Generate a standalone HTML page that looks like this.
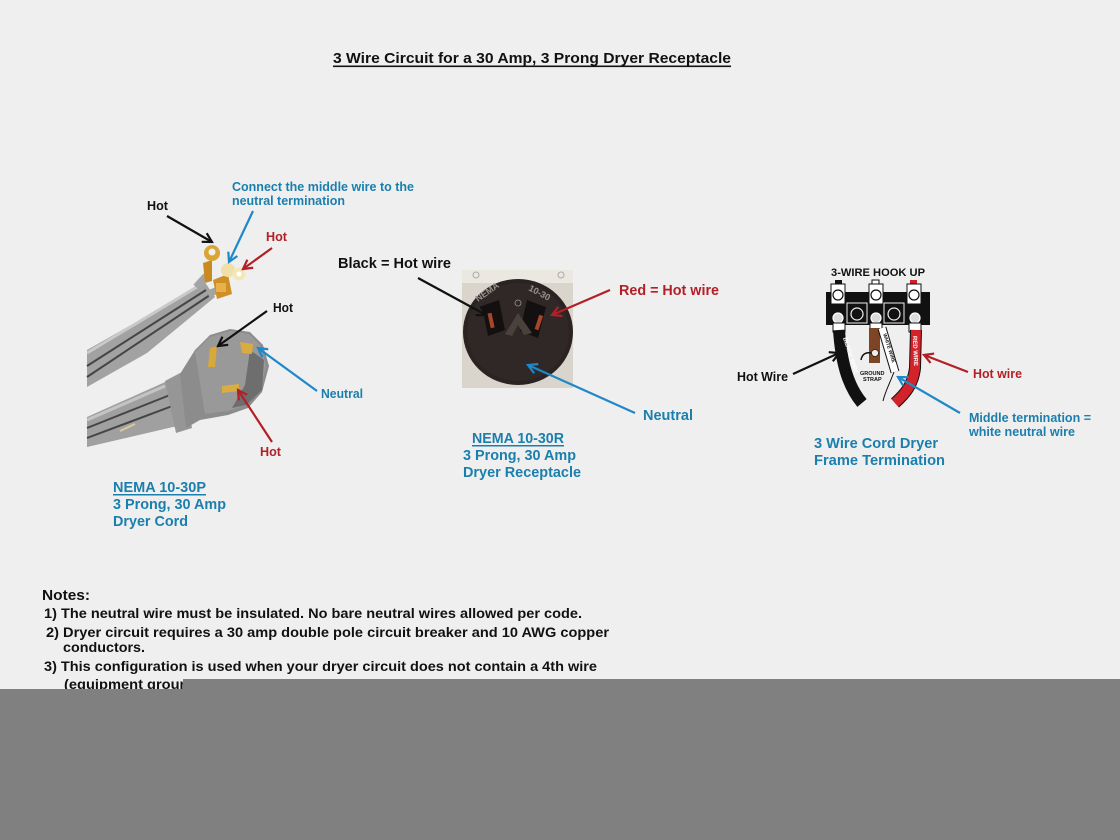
<!DOCTYPE html>
<html><head><meta charset="utf-8"><style>
html,body{margin:0;padding:0;background:#efefef;}
svg{display:block;}
text{font-family:"Liberation Sans",Arial,sans-serif;font-weight:bold;}
</style></head><body>
<svg width="1120" height="840" viewBox="0 0 1120 840" xmlns="http://www.w3.org/2000/svg">
<defs>
<marker id="mk" viewBox="0 0 12 12" refX="10" refY="6" markerWidth="12" markerHeight="12" orient="auto" markerUnits="userSpaceOnUse"><path d="M1,1 L10,6 L1,11" fill="none" stroke="#111" stroke-width="2.2"/></marker>
<marker id="mr" viewBox="0 0 12 12" refX="10" refY="6" markerWidth="12" markerHeight="12" orient="auto" markerUnits="userSpaceOnUse"><path d="M1,1 L10,6 L1,11" fill="none" stroke="#b41f26" stroke-width="2.2"/></marker>
<marker id="mb" viewBox="0 0 12 12" refX="10" refY="6" markerWidth="12" markerHeight="12" orient="auto" markerUnits="userSpaceOnUse"><path d="M1,1 L10,6 L1,11" fill="none" stroke="#1e88c8" stroke-width="2.2"/></marker>
</defs>
<rect width="1120" height="840" fill="#efefef"/>

<!-- Title -->
<text x="333" y="63" font-size="15" fill="#111" textLength="398" lengthAdjust="spacingAndGlyphs">3 Wire Circuit for a 30 Amp, 3 Prong Dryer Receptacle</text>
<rect x="333" y="65.5" width="398" height="1.6" fill="#111"/>

<!-- ===== Cord photo ===== -->
<!-- upper cable -->
<polygon points="87,350 147,316 204,281 215,297 147,353 87,387" fill="#a2a2a2"/>
<path d="M87,353 L202,284" stroke="#c9c9c9" stroke-width="3"/>
<path d="M87,366 L206,290" stroke="#454545" stroke-width="2"/>
<path d="M87,377 L210,295" stroke="#454545" stroke-width="2"/>
<!-- wire ends leading to lugs -->
<path d="M196,287 L206,276" stroke="#a4a4a4" stroke-width="7"/>
<path d="M208,294 L218,290" stroke="#a4a4a4" stroke-width="7"/>
<!-- ring lug left -->
<polygon points="203,263 212,260 212,281 205,283" fill="#c98a22"/>
<circle cx="212" cy="253" r="8" fill="#d9a534"/>
<circle cx="212" cy="252" r="3.5" fill="#f2f0ea"/>
<!-- double lug -->
<polygon points="213,280 228,274 232,294 217,299" fill="#cf8f26"/>
<rect x="216" y="283" width="10" height="9" fill="#e6b24a"/>
<circle cx="228" cy="270" r="7" fill="#f0e0a8"/>
<circle cx="239" cy="274" r="6.5" fill="#f3e6b8"/>
<circle cx="239" cy="274" r="2.5" fill="#fff"/>

<!-- lower cable -->
<polygon points="87,417 163,383 178,376 190,428 173,427 87,447" fill="#a0a0a0"/>
<path d="M87,420 L165,386" stroke="#c4c4c4" stroke-width="3"/>
<path d="M87,428 L170,395" stroke="#454545" stroke-width="2"/>
<path d="M87,438 L175,405" stroke="#454545" stroke-width="2"/>
<path d="M120,431 L135,424" stroke="#d8c8a0" stroke-width="2"/>
<!-- plug strain relief -->
<polygon points="165,381 182,372 192,428 176,433" fill="#969696"/>
<!-- plug head -->
<path d="M180,374 L195,350 L210,335 L230,329 L250,332 L263,345 L269,366 L262,392 L248,408 L228,415 L200,420 L186,428 Z" fill="#8c8c8c"/>
<path d="M195,352 L210,337 L230,331 L249,334 L261,346 L266,366 L260,390 L246,405 L228,411 L205,414 Z" fill="#999"/>
<path d="M250,350 L264,360 L262,390 L246,405 L232,408 L245,385 Z" fill="#6e6e6e"/>
<!-- prongs -->
<polygon points="210,348 217,346 215,367 208,367" fill="#d7a93a"/>
<polygon points="240,342 253,344 252,354 242,353" fill="#d8ac40"/>
<polygon points="222,386 239,384 239,391 222,393" fill="#d9ad42"/>

<!-- cord arrows -->
<line x1="167" y1="216" x2="212" y2="242" stroke="#111" stroke-width="2.2" marker-end="url(#mk)"/>
<line x1="253" y1="211" x2="229" y2="262" stroke="#1e88c8" stroke-width="2.2" marker-end="url(#mb)"/>
<line x1="272" y1="248" x2="243" y2="269" stroke="#b41f26" stroke-width="2.2" marker-end="url(#mr)"/>
<line x1="267" y1="311" x2="218" y2="346" stroke="#111" stroke-width="2.2" marker-end="url(#mk)"/>
<line x1="317" y1="391" x2="258" y2="348" stroke="#1e88c8" stroke-width="2.2" marker-end="url(#mb)"/>
<line x1="272" y1="442" x2="238" y2="390" stroke="#b41f26" stroke-width="2.2" marker-end="url(#mr)"/>

<!-- cord labels -->
<text x="147" y="210" font-size="13" fill="#111" textLength="21" lengthAdjust="spacingAndGlyphs">Hot</text>
<text x="232" y="191" font-size="13" fill="#1b7fae" textLength="182" lengthAdjust="spacingAndGlyphs">Connect the middle wire to the</text>
<text x="232" y="205" font-size="13" fill="#1b7fae" textLength="113" lengthAdjust="spacingAndGlyphs">neutral termination</text>
<text x="266" y="241" font-size="13" fill="#b41f26" textLength="21" lengthAdjust="spacingAndGlyphs">Hot</text>
<text x="273" y="312" font-size="13" fill="#111" textLength="20" lengthAdjust="spacingAndGlyphs">Hot</text>
<text x="321" y="398" font-size="13" fill="#1b7fae" textLength="42" lengthAdjust="spacingAndGlyphs">Neutral</text>
<text x="260" y="456" font-size="13" fill="#b41f26" textLength="21" lengthAdjust="spacingAndGlyphs">Hot</text>

<text x="113" y="492" font-size="15" fill="#1b7fae" textLength="93" lengthAdjust="spacingAndGlyphs">NEMA 10-30P</text>
<rect x="113" y="494" width="93" height="1.5" fill="#1b7fae"/>
<text x="113" y="509" font-size="15" fill="#1b7fae" textLength="113" lengthAdjust="spacingAndGlyphs">3 Prong, 30 Amp</text>
<text x="113" y="526" font-size="15" fill="#1b7fae" textLength="75" lengthAdjust="spacingAndGlyphs">Dryer Cord</text>

<!-- ===== Receptacle photo ===== -->
<rect x="462" y="270" width="111" height="118" fill="#d9d5cd"/>
<rect x="462" y="270" width="111" height="13" fill="#ebe8e2"/>
<circle cx="476" cy="275" r="3" fill="none" stroke="#aaa" stroke-width="1"/>
<circle cx="561" cy="275" r="3" fill="none" stroke="#aaa" stroke-width="1"/>
<ellipse cx="518" cy="332" rx="55" ry="53" fill="#2a2321"/>
<ellipse cx="518" cy="332" rx="51" ry="49" fill="#302826"/>
<polygon points="482,306 499,300 505,330 488,336" fill="#141010"/>
<rect x="489" y="313" width="4" height="15" fill="#a8452a" transform="rotate(-12 491 320)"/>
<polygon points="527,300 546,307 538,338 520,331" fill="#141010"/>
<rect x="537" y="315" width="4" height="15" fill="#a8452a" transform="rotate(18 539 322)"/>
<polygon points="518,313 532,333 524,335 518,325 512,336 505,334" fill="#4a403c"/>
<circle cx="518" cy="303" r="3" fill="none" stroke="#9a9490" stroke-width="0.8"/>
<text x="478" y="302" font-size="9" fill="#9a9490" font-weight="normal" transform="rotate(-35 478 302)">NEMA</text>
<text x="528" y="290" font-size="9" fill="#9a9490" font-weight="normal" transform="rotate(28 528 290)">10-30</text>

<line x1="418" y1="278" x2="486" y2="315" stroke="#111" stroke-width="2.2" marker-end="url(#mk)"/>
<line x1="610" y1="290" x2="552" y2="315" stroke="#b41f26" stroke-width="2.2" marker-end="url(#mr)"/>
<line x1="635" y1="413" x2="528" y2="365" stroke="#1e88c8" stroke-width="2.2" marker-end="url(#mb)"/>

<text x="338" y="268" font-size="15" fill="#111" textLength="113" lengthAdjust="spacingAndGlyphs">Black = Hot wire</text>
<text x="619" y="295" font-size="15" fill="#b41f26" textLength="100" lengthAdjust="spacingAndGlyphs">Red = Hot wire</text>
<text x="643" y="420" font-size="15" fill="#1b7fae" textLength="50" lengthAdjust="spacingAndGlyphs">Neutral</text>
<text x="472" y="443" font-size="15" fill="#1b7fae" textLength="92" lengthAdjust="spacingAndGlyphs">NEMA 10-30R</text>
<rect x="472" y="445" width="92" height="1.5" fill="#1b7fae"/>
<text x="463" y="460" font-size="15" fill="#1b7fae" textLength="113" lengthAdjust="spacingAndGlyphs">3 Prong, 30 Amp</text>
<text x="463" y="477" font-size="15" fill="#1b7fae" textLength="118" lengthAdjust="spacingAndGlyphs">Dryer Receptacle</text>

<!-- ===== Hook-up diagram ===== -->
<text x="831" y="276" font-size="11" fill="#111" textLength="94" lengthAdjust="spacingAndGlyphs">3-WIRE HOOK UP</text>
<rect x="835" y="280" width="7" height="6" fill="#111"/>
<rect x="872" y="280" width="7" height="6" fill="#fff" stroke="#111" stroke-width="1"/>
<rect x="910" y="280" width="7" height="6" fill="#d0202a"/>
<rect x="826" y="292" width="104" height="33" fill="#111"/>
<rect x="847" y="303" width="20" height="20" fill="none" stroke="#eee" stroke-width="1"/>
<rect x="884" y="303" width="20" height="20" fill="none" stroke="#eee" stroke-width="1"/>
<circle cx="857" cy="314" r="6" fill="none" stroke="#eee" stroke-width="1.2"/>
<circle cx="894" cy="314" r="6" fill="none" stroke="#eee" stroke-width="1.2"/>
<rect x="831" y="284" width="14" height="20" fill="#fff" stroke="#111" stroke-width="1"/>
<rect x="869" y="284" width="14" height="20" fill="#fff" stroke="#111" stroke-width="1"/>
<rect x="907" y="284" width="14" height="20" fill="#fff" stroke="#111" stroke-width="1"/>
<circle cx="838" cy="295" r="5" fill="#fff" stroke="#111" stroke-width="1.2"/>
<circle cx="876" cy="295" r="5" fill="#fff" stroke="#111" stroke-width="1.2"/>
<circle cx="914" cy="295" r="5" fill="#fff" stroke="#111" stroke-width="1.2"/>
<circle cx="838" cy="318" r="5" fill="#ddd" stroke="#fff" stroke-width="1.2"/>
<circle cx="876" cy="318" r="5" fill="#ddd" stroke="#fff" stroke-width="1.2"/>
<circle cx="915" cy="318" r="5" fill="#ddd" stroke="#fff" stroke-width="1.2"/>
<rect x="833" y="323" width="12" height="9" fill="#fff" stroke="#111" stroke-width="1"/>
<rect x="870" y="323" width="12" height="7" fill="#fff" stroke="#111" stroke-width="1"/>
<rect x="909" y="323" width="12" height="9" fill="#fff" stroke="#111" stroke-width="1"/>
<rect x="869" y="328" width="11" height="35" fill="#7d4524"/>
<circle cx="875" cy="353" r="3.5" fill="#eee" stroke="#222" stroke-width="0.8"/>
<path d="M839,330 C841,360 847,385 862,403" stroke="#111" stroke-width="12" fill="none"/>
<text x="843" y="338" font-size="6" fill="#fff" transform="rotate(72 843 338)">BLACK WIRE</text>
<path d="M882,328 L895,372" stroke="#111" stroke-width="9" fill="none"/>
<path d="M882,328 L895,372" stroke="#fff" stroke-width="7" fill="none"/>
<path d="M894,372 C889,385 885,392 883,401" stroke="#111" stroke-width="1" fill="none"/>
<text x="883" y="334" font-size="5" fill="#111" font-weight="normal" transform="rotate(72 883 334)">WHITE WIRE</text>
<path d="M916,330 L915,368 C913,385 905,394 895,403" stroke="#111" stroke-width="12" fill="none"/>
<path d="M916,330 L915,368 C913,385 905,394 895,403" stroke="#d4222a" stroke-width="10" fill="none"/>
<text x="913" y="336" font-size="6" fill="#fff" transform="rotate(88 913 336)">RED WIRE</text>
<text x="860" y="375" font-size="5.5" fill="#111" font-weight="normal">GROUND</text>
<text x="863" y="381" font-size="5.5" fill="#111" font-weight="normal">STRAP</text>
<path d="M861,360 C862,354 866,352 871,353" stroke="#111" stroke-width="1.5" fill="none"/>

<line x1="793" y1="374" x2="839" y2="353" stroke="#111" stroke-width="2.2" marker-end="url(#mk)"/>
<line x1="968" y1="372" x2="924" y2="355" stroke="#b41f26" stroke-width="2.2" marker-end="url(#mr)"/>
<line x1="960" y1="413" x2="898" y2="377" stroke="#1e88c8" stroke-width="2.2" marker-end="url(#mb)"/>

<text x="737" y="381" font-size="13" fill="#111" textLength="51" lengthAdjust="spacingAndGlyphs">Hot Wire</text>
<text x="973" y="378" font-size="13" fill="#b41f26" textLength="49" lengthAdjust="spacingAndGlyphs">Hot wire</text>
<text x="969" y="422" font-size="13" fill="#1b7fae" textLength="122" lengthAdjust="spacingAndGlyphs">Middle termination =</text>
<text x="969" y="436" font-size="13" fill="#1b7fae" textLength="106" lengthAdjust="spacingAndGlyphs">white neutral wire</text>
<text x="814" y="448" font-size="15" fill="#1b7fae" textLength="124" lengthAdjust="spacingAndGlyphs">3 Wire Cord Dryer</text>
<text x="814" y="465" font-size="15" fill="#1b7fae" textLength="131" lengthAdjust="spacingAndGlyphs">Frame Termination</text>

<!-- Notes -->
<text x="42" y="600" font-size="15" fill="#111" textLength="48" lengthAdjust="spacingAndGlyphs">Notes:</text>
<text x="44" y="618" font-size="14" fill="#111" textLength="538" lengthAdjust="spacingAndGlyphs">1) The neutral wire must be insulated. No bare neutral wires allowed per code.</text>
<text x="46" y="637" font-size="14" fill="#111" textLength="563" lengthAdjust="spacingAndGlyphs">2) Dryer circuit requires a 30 amp double pole circuit breaker and 10 AWG copper</text>
<text x="63" y="652" font-size="14" fill="#111" textLength="82" lengthAdjust="spacingAndGlyphs">conductors.</text>
<text x="44" y="671" font-size="14" fill="#111" textLength="553" lengthAdjust="spacingAndGlyphs">3) This configuration is used when your dryer circuit does not contain a 4th wire</text>
<text x="64" y="689" font-size="14" fill="#111" textLength="236" lengthAdjust="spacingAndGlyphs">(equipment grounding conductor)</text>

<!-- bottom gray bar -->
<rect x="0" y="689" width="184" height="151" fill="#808080"/>
<rect x="183" y="679" width="937" height="161" fill="#808080"/>
</svg>
</body></html>
